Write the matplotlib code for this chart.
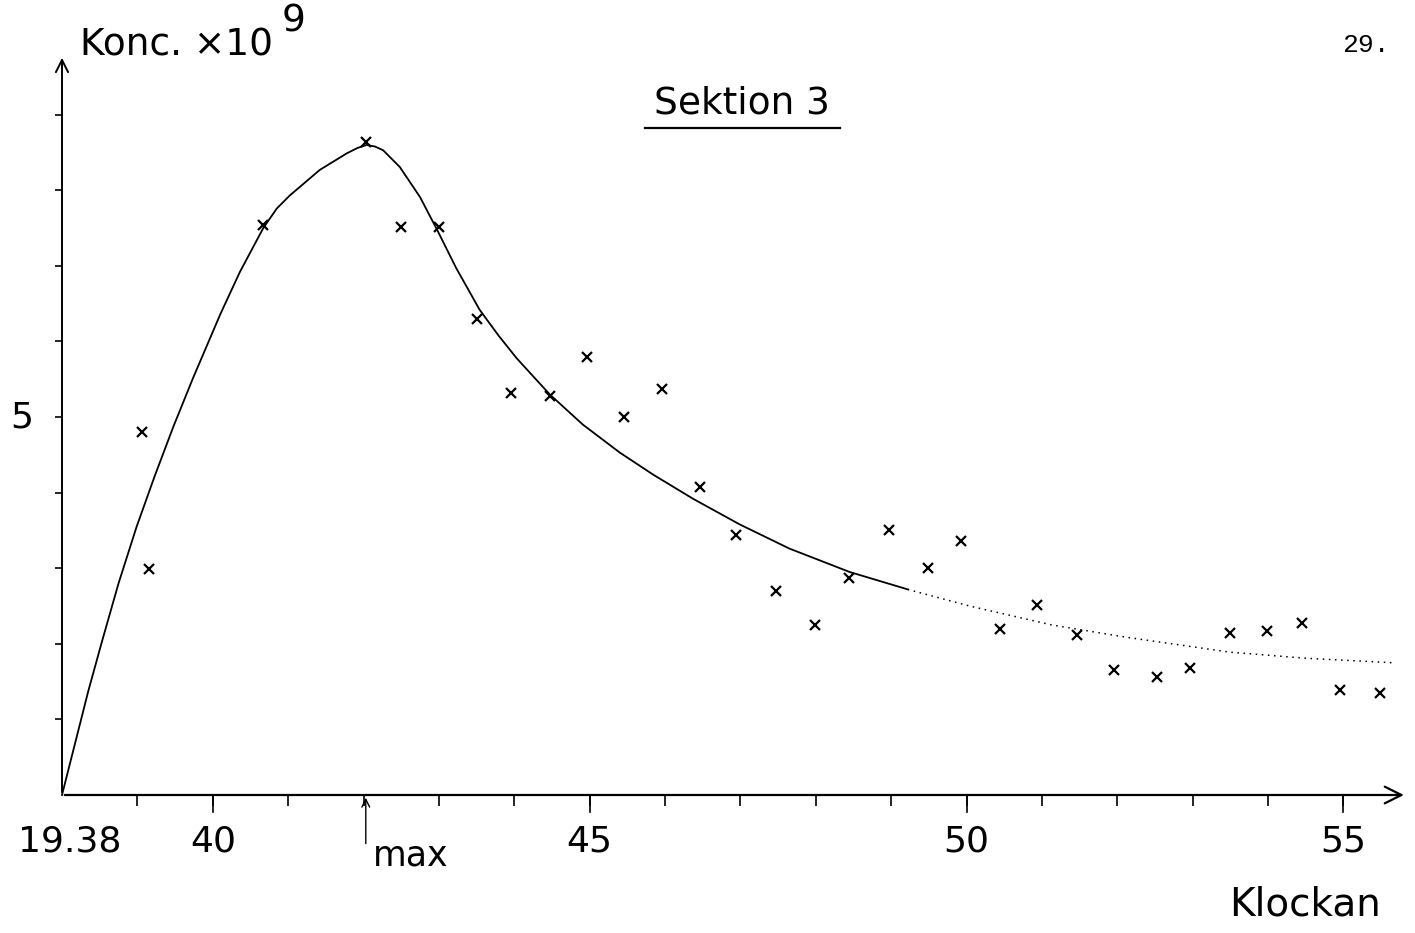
import numpy as np
import matplotlib
matplotlib.use('AGG')
import matplotlib.pyplot as plt

# measured points (time in minutes after 19.00, konc x 1e9)
t_pts = [39.06, 39.15, 40.67, 42.03, 42.5, 43.0, 43.5, 43.95, 44.47, 44.96,
         45.45, 45.96, 46.47, 46.94, 47.47, 47.99, 48.44, 48.97, 49.49, 49.92,
         50.45, 50.93, 51.47, 51.95, 52.52, 52.97, 53.49, 53.98, 54.45, 54.96,
         55.48]
c_pts = [4.80, 2.99, 7.54, 8.64, 7.51, 7.51, 6.30, 5.32, 5.28, 5.79,
         5.00, 5.37, 4.07, 3.44, 2.70, 2.25, 2.87, 3.51, 3.00, 3.36,
         2.20, 2.51, 2.12, 1.65, 1.56, 1.68, 2.14, 2.17, 2.28, 1.39,
         1.35]

# hand drawn curve
t_curve = [38.0, 38.35, 38.53, 38.75, 38.99, 39.23, 39.48, 39.74, 40.10, 40.36,
           40.67, 40.85, 41.02, 41.42, 41.78, 41.92, 42.04, 42.15, 42.26, 42.48,
           42.75, 42.99, 43.23, 43.54, 43.79, 44.03, 44.47, 44.91, 45.40, 45.84,
           46.37, 46.99, 47.65, 48.45, 49.22]
c_curve = [0.0, 1.38, 2.03, 2.80, 3.55, 4.22, 4.88, 5.52, 6.36, 6.92,
           7.50, 7.76, 7.93, 8.27, 8.49, 8.56, 8.60, 8.58, 8.53, 8.31,
           7.91, 7.45, 6.97, 6.42, 6.08, 5.78, 5.30, 4.90, 4.53, 4.24,
           3.92, 3.58, 3.26, 2.95, 2.72]
# faint broken tail
t_tail = [49.22, 50.04, 51.13, 52.1, 53.49, 54.49, 55.65]
c_tail = [2.72, 2.50, 2.25, 2.09, 1.89, 1.81, 1.75]

xlabels = ['19.38', '40', '45', '50', '55']
xlab_pos = [38.1, 40, 45, 50, 55]
t_max = 42.03

fnt = 'DejaVu Sans'

fig = plt.figure(figsize=(14.15, 9.33), dpi=100)
ax = fig.add_axes([62 / 1415, 138 / 933, 1338 / 1415, 740 / 933])
ax.set_xlim(38, 55.75)
ax.set_ylim(0, 9.79)
for s in ax.spines.values():
    s.set_visible(False)

ax.plot(t_curve, c_curve, color='black', lw=1.3, clip_on=False,
        solid_joinstyle='round')
ax.plot(t_tail, c_tail, color='black', lw=1.1, ls=(0, (1, 3)))
ax.plot(t_pts, c_pts, 'x', color='black', ms=7, mew=1.6)

# axes drawn as arrows
ax.annotate('', xy=(1.005, 0), xytext=(0, 0), xycoords='axes fraction',
            arrowprops=dict(arrowstyle='->', lw=1.6, color='black',
                            mutation_scale=30))
ax.annotate('', xy=(0, 1.0), xytext=(0, 0), xycoords='axes fraction',
            arrowprops=dict(arrowstyle='->', lw=1.4, color='black',
                            mutation_scale=22))

ax.set_xticks(np.arange(39, 56))
ax.set_xticklabels([])
ax.tick_params(axis='x', direction='out', length=8, width=1.2)
ax.set_yticks(np.arange(1, 10))
ax.set_yticklabels([])
ax.tick_params(axis='y', direction='out', length=5, width=1.2)
for t in [40, 45, 50, 55]:
    ax.plot([t, t], [0, -0.22], color='black', lw=1.2, clip_on=False)

for p, lab in zip(xlab_pos, xlabels):
    ax.text(p, -0.62, lab, ha='center', va='center', fontsize=26, family=fnt)
ax.text(37.46, 5.0, '5', ha='center', va='center', fontsize=26, family=fnt)
ax.text(55.5, -1.45, 'Klockan', ha='right', va='center', fontsize=28,
        family=fnt)

# max marker
ax.annotate('', xy=(t_max, 0), xytext=(t_max, -0.68),
            arrowprops=dict(arrowstyle='->', lw=1.0, color='black',
                            mutation_scale=14), annotation_clip=False)
ax.text(t_max + 0.1, -0.8, 'max', ha='left', va='center', fontsize=25,
        family=fnt)

fig.text(80 / 1415, 1 - 45 / 933, 'Konc. \u00d710', ha='left', va='center',
         fontsize=27, family=fnt)
fig.text(282 / 1415, 1 - 22 / 933, '9', ha='left', va='center',
         fontsize=27, family=fnt)
fig.text(742 / 1415, 1 - 104 / 933, 'Sektion 3', ha='center', va='center',
         fontsize=27, family=fnt)
fig.add_artist(plt.Line2D([645 / 1415, 840 / 1415],
                          [1 - 128 / 933, 1 - 128 / 933],
                          color='black', lw=1.6))
fig.text(1366 / 1415, 1 - 45 / 933, '29.', ha='center', va='center',
         fontsize=19, family='Liberation Mono')

fig.savefig('out.png', dpi=100, facecolor='white')
